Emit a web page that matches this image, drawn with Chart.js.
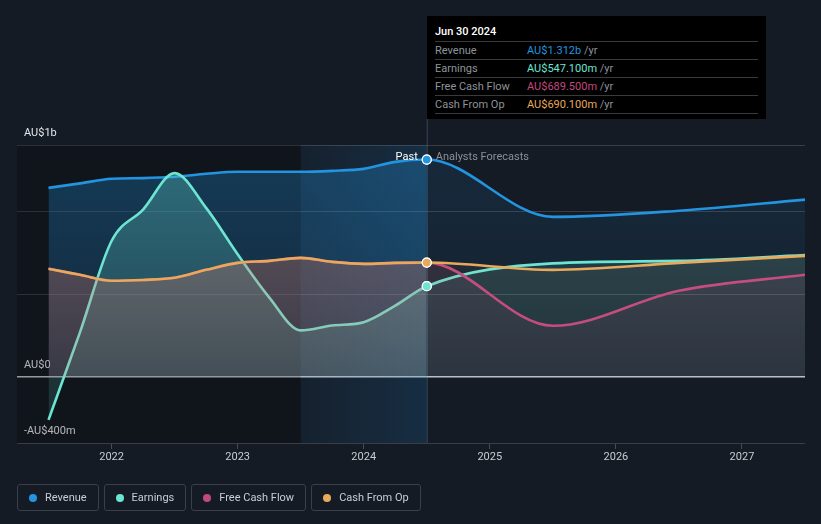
<!DOCTYPE html>
<html>
<head>
<meta charset="utf-8">
<script src="https://cdn.jsdelivr.net/npm/chart.js@4.4.1/dist/chart.umd.min.js"></script>
<style>
  html, body { margin: 0; padding: 0; background: #151b25; }
  body { width: 821px; height: 524px; position: relative; overflow: hidden; font-family: Roboto, "Noto Sans", sans-serif; }
  #wrap { position: absolute; left: 0; top: 0; width: 821px; height: 524px; }
  .tip { position: absolute; left: 427px; top: 16px; width: 339px; height: 103px; background: #000; color: #fff; font-size: 11px; }
  .tip .title { position: absolute; left: 8px; top: 9px; font-weight: 500; }
  .tip .rows { position: absolute; left: 8px; right: 8px; top: 25px; border-bottom: 1px solid #3a3a3a; }
  .tip .row { height: 17px; line-height: 17px; border-top: 1px solid #3a3a3a; position: relative; color: #8e939a; }
  .tip .row .v { position: absolute; left: 92px; top: 0; }
  .tip .row .u { color: #8e939a; }
  .legend { position: absolute; left: 17px; top: 484px; display: flex; gap: 5px; }
  .legend .item { height: 27px; border: 1px solid #3b3f48; border-radius: 3px; box-sizing: border-box; padding: 0 11px 0 11px; display: flex; align-items: center; font-size: 11px; color: #c9cdd3; }
  .legend .dot { width: 8px; height: 8px; border-radius: 50%; margin-right: 8px; }
</style>
</head>
<body>
<div id="wrap"><canvas id="c" width="821" height="524"></canvas></div>
<div class="tip" id="tip"></div>
<div class="legend" id="legend"></div>
<script>
// values in AU$ billions, x in decimal years
const pastYears = [2021.5, 2021.75, 2022, 2022.25, 2022.5, 2022.75, 2023, 2023.25, 2023.5, 2023.75, 2024, 2024.25, 2024.5];
const forecastYears = [2025.5, 2026.5, 2027.5];

const revenuePast = [1.141, 1.168, 1.196, 1.200, 1.208, 1.226, 1.238, 1.238, 1.238, 1.244, 1.256, 1.298, 1.312];
const revenueForecast = [0.966, 1.003, 1.07];
const earningsPast = [-0.26, 0.27, 0.82, 1.01, 1.23, 1.02, 0.74, 0.48, 0.28, 0.31, 0.33, 0.43, 0.5471];
const earningsForecast = [0.685, 0.70, 0.735];
const fcfPast = [0.652, 0.616, 0.58, 0.585, 0.598, 0.646, 0.688, 0.70, 0.718, 0.694, 0.682, 0.688, 0.6895];
const fcfForecast = [0.308, 0.52, 0.616];
const cfoPast = [0.652, 0.616, 0.58, 0.585, 0.598, 0.646, 0.688, 0.70, 0.718, 0.694, 0.682, 0.688, 0.6901];
const cfoForecast = [0.646, 0.688, 0.73];

const seriesNames = ['Revenue', 'Earnings', 'Free Cash Flow', 'Cash From Op'];
const seriesColors = ['#2394df', '#6de5d3', '#c2497f', '#e8a95c'];

const yTicks = [-0.4, 0, 0.5, 1, 1.4];
const yTickLabels = { '-0.4': '-AU$400m', '0': 'AU$0', '1.4': 'AU$1b' };
const xTicks = [2022, 2023, 2024, 2025, 2026, 2027];
const nowYear = 2024.5;
const lastYearStart = 2023.5;
const nowLabel = 'Jun 30 2024';

function pts(xs, ys) { return xs.map((x, i) => ({ x: x, y: ys[i] })); }
function series(past, fut) { return pts(pastYears, past).concat(pts(forecastYears, fut)); }

function rgba(hex, a) {
  const n = parseInt(hex.slice(1), 16);
  return 'rgba(' + (n >> 16) + ',' + ((n >> 8) & 255) + ',' + (n & 255) + ',' + a + ')';
}

// vertical fill gradients, cached so that segments with the same style merge
const gradCache = {};
function grad(chart, color, a0, a1) {
  const area = chart.chartArea;
  if (!area) return rgba(color, a0);
  const key = color + a0 + a1 + area.top + area.bottom;
  if (gradCache[key]) return gradCache[key];
  const zero = chart.scales.y.getPixelForValue(0);
  const g = chart.ctx.createLinearGradient(0, area.top, 0, zero);
  g.addColorStop(0, rgba(color, a0));
  g.addColorStop(1, rgba(color, a1));
  gradCache[key] = g;
  return g;
}

const fillAlpha = [
  [0.30, 0.16, 0.12, 0.05],
  [0.30, 0.14, 0.16, 0.07],
  [0.24, 0.10, 0.16, 0.06],
  [0.24, 0.10, 0.08, 0.03]
];

const pastLen = pastYears.length;
const allData = [
  series(revenuePast, revenueForecast),
  series(earningsPast, earningsForecast),
  series(fcfPast, fcfForecast),
  series(cfoPast, cfoForecast)
];
const drawOrder = [3, 2, 1, 0];

const datasets = allData.map((d, i) => ({
  label: seriesNames[i],
  data: d,
  order: drawOrder[i],
  borderColor: seriesColors[i],
  borderWidth: 2.6,
  cubicInterpolationMode: 'monotone',
  fill: 'origin',
  backgroundColor: seriesColors[i],
  pointRadius: ctx => (ctx.raw && ctx.raw.x === nowYear && i !== 2) ? 4.5 : 0,
  pointBackgroundColor: seriesColors[i],
  pointBorderColor: '#ffffff',
  pointBorderWidth: 1.2,
  segment: {
    backgroundColor: ctx => {
      const a = fillAlpha[i];
      return ctx.p0DataIndex >= pastLen - 1 ? grad(ctx.chart, seriesColors[i], a[2], a[3]) : grad(ctx.chart, seriesColors[i], a[0], a[1]);
    }
  }
}));

const backdrop = {
  id: 'backdrop',
  beforeDatasetsDraw(chart) {
    const { ctx, chartArea: a, scales: { x } } = chart;
    const xs = x.getPixelForValue(lastYearStart);
    const xn = x.getPixelForValue(nowYear);
    ctx.save();
    ctx.fillStyle = 'rgba(0,0,0,0.22)';
    ctx.fillRect(a.left, a.top, xs - a.left, a.bottom - a.top);
    const g = ctx.createLinearGradient(xs, 0, xn, 0);
    g.addColorStop(0, 'rgba(35,148,223,0.05)');
    g.addColorStop(1, 'rgba(35,148,223,0.16)');
    ctx.fillStyle = g;
    ctx.fillRect(xs, a.top, xn - xs, a.bottom - a.top);
    ctx.strokeStyle = 'rgba(110,150,190,0.35)';
    ctx.lineWidth = 1;
    ctx.beginPath();
    ctx.moveTo(xn + 0.5, 119);
    ctx.lineTo(xn + 0.5, a.bottom);
    ctx.stroke();
    ctx.restore();
  },
  afterDatasetsDraw(chart) {
    const { ctx, scales: { x, y } } = chart;
    // redraw the "now" markers so later fills do not dim them
    [1, 3, 0].forEach(i => {
      const el = chart.getDatasetMeta(i).data[pastLen - 1];
      if (el) el.draw(ctx, chart.chartArea);
    });
    const xn = x.getPixelForValue(nowYear);
    const ty = y.getPixelForValue(revenuePast[pastLen - 1]) - 2;
    ctx.save();
    ctx.font = '11px Roboto, "Noto Sans", sans-serif';
    ctx.textBaseline = 'middle';
    ctx.textAlign = 'right';
    ctx.fillStyle = '#ffffff';
    ctx.fillText('Past', xn - 9, ty);
    ctx.textAlign = 'left';
    ctx.fillStyle = '#8a8f97';
    ctx.fillText('Analysts Forecasts', xn + 9, ty);
    ctx.restore();
  }
};

new Chart(document.getElementById('c'), {
  type: 'line',
  data: { datasets: datasets },
  options: {
    responsive: false,
    animation: false,
    events: [],
    layout: { padding: { left: 17, right: 16, top: 145, bottom: 51 } },
    plugins: { legend: { display: false }, tooltip: { enabled: false } },
    scales: {
      x: {
        type: 'linear',
        min: 2021.25,
        max: 2027.5,
        afterBuildTicks: s => { s.ticks = xTicks.map(v => ({ value: v })); },
        afterFit: s => { s.height = 30; },
        border: { display: false },
        grid: { drawOnChartArea: false, drawTicks: true, tickLength: 6, color: '#464b54' },
        ticks: {
          autoSkip: false,
          maxRotation: 0,
          padding: 2,
          color: '#c9cdd2',
          font: { family: 'Roboto', size: 11 },
          callback: v => String(v)
        }
      },
      y: {
        min: -0.4,
        max: 1.4,
        afterBuildTicks: s => { s.ticks = yTicks.map(v => ({ value: v })); },
        afterFit: s => { s.width = 0; },
        border: { display: false },
        grid: {
          drawTicks: false,
          color: c => c.tick && c.tick.value === 0 ? '#c3c6cb' : '#383d46',
          lineWidth: c => c.tick && c.tick.value === 0 ? 1.6 : 1
        },
        ticks: {
          mirror: true,
          padding: 7,
          labelOffset: -12,
          autoSkip: false,
          color: '#e4e6e9',
          font: { family: 'Roboto', size: 11 },
          callback: v => yTickLabels[String(v)] || ''
        }
      }
    }
  },
  plugins: [backdrop]
});

// tooltip box and legend (html)
function fmt(v) {
  return v >= 1 ? 'AU$' + v.toFixed(3) + 'b' : 'AU$' + (v * 1000).toFixed(3) + 'm';
}
const nowVals = [revenuePast, earningsPast, fcfPast, cfoPast].map(a => a[pastLen - 1]);
let html = '<div class="title">' + nowLabel + '</div><div class="rows">';
seriesNames.forEach((n, i) => {
  html += '<div class="row">' + n + '<span class="v"><span style="color:' + seriesColors[i] + '">' + fmt(nowVals[i]) + '</span> <span class="u">/yr</span></span></div>';
});
html += '</div>';
document.getElementById('tip').innerHTML = html;

document.getElementById('legend').innerHTML = seriesNames.map((n, i) =>
  '<div class="item"><span class="dot" style="background:' + seriesColors[i] + '"></span>' + n + '</div>'
).join('');
</script>
</body>
</html>
